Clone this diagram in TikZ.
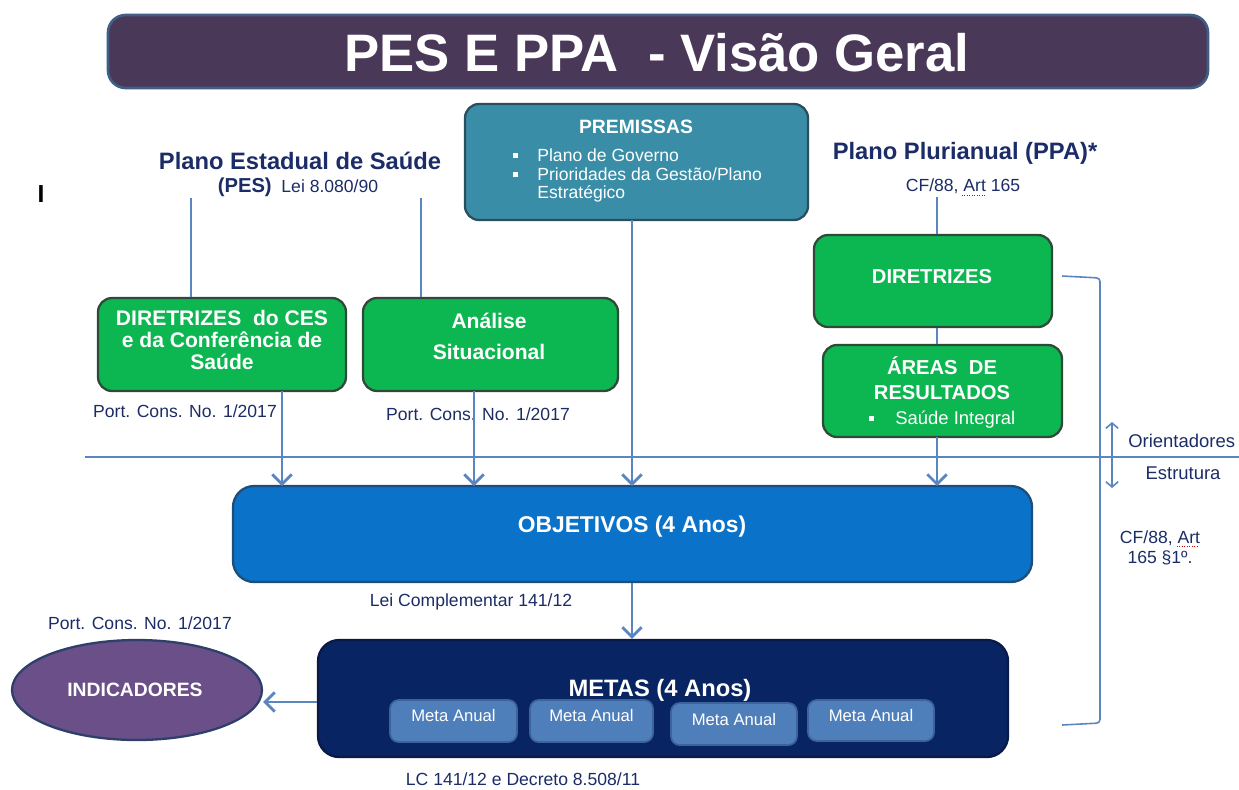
\documentclass[tikz,border=0pt]{standalone}
\usepackage{fontspec}
\setmainfont{Liberation Sans}
\usetikzlibrary{fit,arrows.meta,shapes.geometric}
\definecolor{ctitle}{HTML}{4A3859}
\definecolor{ctitleb}{HTML}{3F5F86}
\definecolor{cnavy}{HTML}{1B2C66}
\definecolor{cgreen}{HTML}{0CB650}
\definecolor{cgreenb}{HTML}{2F4A38}
\definecolor{cteal}{HTML}{3A8DA6}
\definecolor{ctealb}{HTML}{2B4E5E}
\definecolor{cobj}{HTML}{0A72C8}
\definecolor{cobjb}{HTML}{1D4D7A}
\definecolor{cmetas}{HTML}{082463}
\definecolor{cmetasb}{HTML}{0A1A48}
\definecolor{cmeta}{HTML}{4F7FBB}
\definecolor{cmetab}{HTML}{3C639A}
\definecolor{cind}{HTML}{6A4F88}
\definecolor{cindb}{HTML}{2E3F6A}
\definecolor{cline}{HTML}{5A86C0}
\newcommand{\sqbul}{\rule[1.6pt]{2.8pt}{2.8pt}}
\begin{document}
\begin{tikzpicture}[x=0.02cm,y=-0.02cm,
  box/.style={rounded corners=8pt, line width=1.3pt, inner sep=0pt},
  greenbox/.style={box, fill=cgreen, draw=cgreenb},
  boxtxt/.style={text=white, font=\fontsize{12}{12.6}\selectfont\bfseries, align=center, inner sep=0pt},
  smalltxt/.style={text=white, font=\fontsize{10}{11}\selectfont, inner sep=0pt},
  lbl/.style={text=cnavy, font=\fontsize{10}{11.5}\selectfont, inner sep=0pt},
  conn/.style={draw=cline, line width=0.9pt},
  arr/.style={draw=cline, line width=1.6pt, -{Straight Barb[length=5.5pt,width=11pt,line width=1.6pt]}},
  thinarr/.style={draw=cline, line width=0.9pt, {Straight Barb[length=3pt,width=7pt]}-{Straight Barb[length=3pt,width=7pt]}},
  spell/.style={red!80!black, line width=0.4pt, densely dotted},
]
\useasboundingbox (0,0) rectangle (1239,789);

% title
\node[box, rounded corners=10pt, fill=ctitle, draw=ctitleb, line width=1.5pt, fit={(108,15) (1208,88)}] (title) {};
\node[text=white, font=\fontsize{30}{34}\selectfont\bfseries, inner sep=0pt] at (657,53) {PES E PPA\ \ - Visão Geral};

% left stray letter
\node[font=\fontsize{14}{16}\selectfont\bfseries, inner sep=0pt] (ii) at (41,194) {I};

% PES heading
\node[text=cnavy, font=\fontsize{13.5}{15}\selectfont\bfseries, inner sep=0pt] (pes) at (300,161) {Plano Estadual de Saúde};
\node[lbl, anchor=base] (pes2) at (298,192) {{\fontsize{11.5}{13}\selectfont\bfseries (PES)}\ \ Lei 8.080/90};
\coordinate (pesL) at (191,198);
\coordinate (pesR) at (421,198);

% PPA heading
\node[text=cnavy, font=\fontsize{13.5}{15}\selectfont\bfseries, inner sep=0pt] (ppa) at (965,153) {Plano Plurianual (PPA)*};
\node[lbl] (cf) at (963,186) {CF/88, Art 165};
\draw[spell] (962,195) -- (985,195);

% premissas
\node[box, fill=cteal, draw=ctealb, fit={(465,104) (808,220)}] (prem) {};
\node[boxtxt, font=\fontsize{11}{12}\selectfont\bfseries] at (636,127) {PREMISSAS};
\node[smalltxt, anchor=base west] at (513,161) {\sqbul};
\node[smalltxt, anchor=base west] at (537,161) {Plano de Governo};
\node[smalltxt, anchor=base west] at (513,180) {\sqbul};
\node[smalltxt, anchor=base west] at (537,180) {Prioridades da Gestão/Plano};
\node[smalltxt, anchor=base west] at (537,198) {Estratégico};

% green boxes left
\node[greenbox, fit={(98,298) (346,391)}] (ces) {};
\node[boxtxt] at (222,340) {DIRETRIZES\ \ do CES\\e da Conferência de\\Saúde};
\node[greenbox, fit={(363,298) (618,391)}] (ana) {};
\node[boxtxt, font=\fontsize{12}{17.5}\selectfont\bfseries] at (489,336) {Análise\\Situacional};

\draw[conn] (pesL) -- (pesL |- ces.north);
\draw[conn] (pesR) -- (pesR |- ana.north);

\node[lbl] (port1) at (185,411) {Port. Cons. No. 1/2017};
\node[lbl] (port2) at (478,414) {Port. Cons. No. 1/2017};

% PPA boxes
\node[greenbox, fit={(814,235) (1052,327)}] (dir) {};
\node[boxtxt, font=\fontsize{11.5}{12}\selectfont\bfseries] at (932,277) {DIRETRIZES};
\node[greenbox, fit={(823,345) (1062,437)}] (areas) {};
\node[boxtxt, font=\fontsize{11.5}{14}\selectfont\bfseries] at (942,378) {ÁREAS\ \ DE\\RESULTADOS};
\node[smalltxt, anchor=base west] at (869,424) {\sqbul};
\node[smalltxt, anchor=base west, font=\fontsize{10.5}{12}\selectfont] at (895,424) {Saúde Integral};

\coordinate (cfb) at (937,197);
\draw[conn] (cfb) -- (cfb |- dir.north);
\draw[conn] (dir.south -| cfb) -- (areas.north -| cfb);

% horizontal divider
\coordinate (hl) at (85,457);
\coordinate (hr) at (1239,457);
\draw[conn] (hl) -- (hr);

% bracket
\coordinate (bk1) at (1062,276);
\coordinate (bk2) at (1062,725);
\draw[conn, rounded corners=2pt] (bk1) -- (1100,278) -- (1100,723) -- (bk2);

% double arrow
\coordinate (da1) at (1112,422);
\coordinate (da2) at (1112,488);
\draw[thinarr] (da1) -- (da2);
\node[lbl, anchor=west, font=\fontsize{10.5}{12}\selectfont] (ori) at (1128,441) {Orientadores};
\node[lbl, font=\fontsize{10.5}{12}\selectfont] (est) at (1183,473) {Estrutura};
\node[lbl, align=center, font=\fontsize{10}{11}\selectfont] (cf2) at (1160,548) {CF/88, Art\\165 §1º.};
\draw[spell] (1177,546) -- (1199,546);

% objetivos
\node[box, rounded corners=12pt, fill=cobj, draw=cobjb, fit={(233,486) (1032,582)}] (obj) {};
\node[boxtxt, font=\fontsize{13}{14}\selectfont\bfseries] at (632,527) {OBJETIVOS (4 Anos)};

\draw[arr] (282,391) -- (282,486);
\draw[arr] (474,391) -- (474,486);
\draw[arr] (632,220) -- (632,486);
\draw[arr] (937,437) -- (937,486);

\node[lbl] (lc) at (471,602) {Lei Complementar 141/12};
\node[lbl] (port3) at (140,623) {Port. Cons. No. 1/2017};

% metas
\node[box, rounded corners=12pt, fill=cmetas, draw=cmetasb, fit={(318,640) (1008,757)}] (metas) {};
\draw[arr] (obj.south -| 632,0) -- (metas.north -| 632,0);
\node[boxtxt, font=\fontsize{13.5}{14}\selectfont\bfseries] at (660,690) {METAS (4 Anos)};
\tikzset{metab/.style={box, rounded corners=5pt, fill=cmeta, draw=cmetab, line width=1pt}}
\node[metab, fit={(390,700) (517,742)}] (m1) {};
\node[metab, fit={(530,700) (653,742)}] (m2) {};
\node[metab, fit={(671,703) (797,745)}] (m3) {};
\node[metab, fit={(808,700) (934,741)}] (m4) {};
\foreach \m/\dy in {m1/-5,m2/-5,m3/-4,m4/-5}{
  \node[smalltxt, font=\fontsize{9.5}{11}\selectfont] at ([yshift=-\dy*0.02cm]\m.center) {Meta Anual};
}

% indicadores
\node[ellipse, fill=cind, draw=cindb, line width=1.3pt, minimum width=250*0.02cm, minimum height=100*0.02cm, inner sep=0pt] (ind) at (137,690) {};
\node[boxtxt, font=\fontsize{11}{12}\selectfont\bfseries] at (135,690) {INDICADORES};
\draw[arr] (metas.west |- 0,702) -- (ind.east |- 0,702);

\node[lbl] (lc2) at (523,779) {LC 141/12 e Decreto 8.508/11};
\end{tikzpicture}
\end{document}
